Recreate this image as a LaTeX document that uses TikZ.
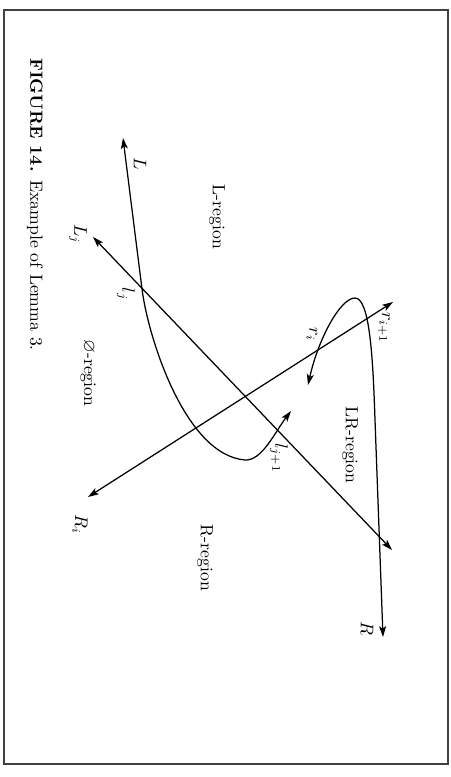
\documentclass[tikz,border=0pt]{standalone}
\usepackage{amssymb}
\usetikzlibrary{arrows.meta}
\begin{document}
\begin{tikzpicture}[x=0.6pt,y=-0.6pt,
  curve/.style={line width=0.75pt,{Stealth[length=6.5pt,width=4.2pt,inset=1.5pt]}-{Stealth[length=6.5pt,width=4.2pt,inset=1.5pt]}},
  lbl/.style={rotate=-90,inner sep=0pt,font=\fontsize{10.6}{12.5}\selectfont},
  frame/.style={draw=black!75,line width=0.8pt}]
\useasboundingbox (0,0) rectangle (451,777);
\draw[frame] (4,10) rectangle (448,764);
% key points
\coordinate (Ltip) at (123,138);
\coordinate (lj) at (142,289);
\coordinate (Lbot) at (245,460);
\coordinate (Lend) at (291,411);
\coordinate (Rstart) at (308,385);
\coordinate (Rpeak) at (355,298);
\coordinate (Rbend) at (375,420);
\coordinate (Rtip) at (383,637);
\coordinate (Ri1) at (393,302);
\coordinate (Ri2) at (88,497);
\coordinate (Lj1) at (93,237);
\coordinate (Lj2) at (392,550);
% curves and lines
\draw[curve] (Ltip) -- (lj) .. controls (148,337) and (185,455) .. (Lbot)
  .. controls (262,461) and (275,432) .. (Lend);
\draw[curve] (Rstart) .. controls (318,340) and (340,298) .. (Rpeak)
  .. controls (370,298) and (373,360) .. (Rbend) -- (Rtip);
\draw[curve] (Ri1) -- (Ri2);
\draw[curve] (Lj1) -- (Lj2);
% labels
\node[lbl] (tL) at (140,164) {$L$};
\node[lbl] (tLreg) at (217,217) {L-region};
\node[lbl] (tLj) at (78,234) {$L_j$};
\node[lbl] (tlj) at (126,294) {$l_j$};
\node[lbl] (tOreg) at (88,373) {$\varnothing$-region};
\node[lbl] (tri) at (312,334) {$r_i$};
\node[lbl] (tri1) at (384,328) {$r_{i+1}$};
\node[lbl] (tLRreg) at (350,445) {LR-region};
\node[lbl] (tlj1) at (279,458) {$l_{j+1}$};
\node[lbl] (tRi) at (80,524) {$R_i$};
\node[lbl] (tRreg) at (205,558) {R-region};
\node[lbl] (tR) at (367,628) {$R$};
\node[lbl,anchor=west] (cap) at (35,58) {\textbf{FIGURE 14.}\enspace Example of Lemma 3.};
\end{tikzpicture}
\end{document}
